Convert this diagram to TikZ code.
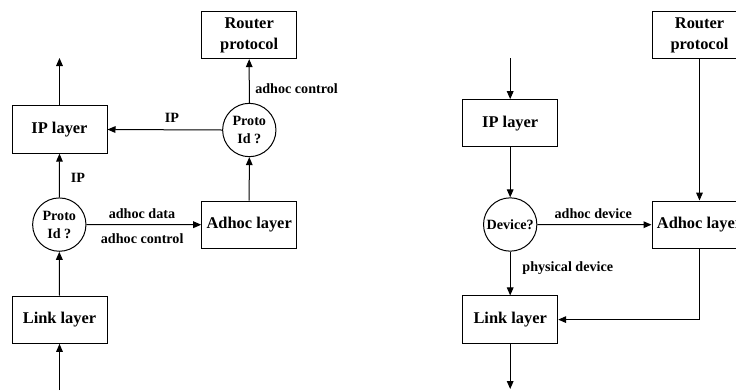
\documentclass[tikz,border=0pt]{standalone}
\usepackage{fontspec}
\setmainfont{Liberation Serif}
\usetikzlibrary{arrows.meta}

\begin{document}
\begin{tikzpicture}[x=0.75pt,y=0.75pt,yscale=-1,xscale=1,
    layer/.style={draw, line width=0.75pt, minimum width=71.25pt, minimum height=35.5pt, inner sep=0pt, align=center, font=\fontsize{12.3}{15.75}\selectfont\bfseries},
    decide/.style={draw, circle, line width=0.75pt, minimum size=40pt, inner sep=0pt, align=center, font=\fontsize{10.6}{13.5}\selectfont\bfseries},
    lbl/.style={inner sep=0pt, font=\fontsize{10.6}{13}\selectfont\bfseries},
    flow/.style={line width=0.75pt, -{Triangle[length=6pt,width=5pt]}}]
    \useasboundingbox (0,0) rectangle (736,390);

    %Shape: Rectangle (receive side)
    \node [layer] (rp1) at (249.2,35) {Router\\protocol};
    \node [layer] (ip1) at (59.5,129.5) {IP layer};
    \node [layer] (ad1) at (249.2,224.7) {Adhoc layer};
    \node [layer] (ll1) at (59.5,319.7) {Link layer};
    %Shape: Circle
    \node [decide] (pid1) at (249.3,130) {Proto\\Id ?};
    \node [decide] (pid2) at (59.3,224.6) {Proto\\Id ?};
    \coordinate (ipout) at (59.5,58);
    \coordinate (llin) at (59.5,390);

    %Straight Lines
    \draw [flow] (llin) -- (ll1.south);
    \draw [flow] (ll1.north) -- (pid2.south);
    \draw [flow] (pid2.north) -- (ip1.south);
    \draw [flow] (ip1.north) -- (ipout);
    \draw [flow] (pid2.east) -- (ad1.west);
    \draw [flow] (ad1.north) -- (pid1.south);
    \draw [flow] (pid1.west) -- (ip1.east);
    \draw [flow] (pid1.north) -- (rp1.south);

    % Text Node
    \node [lbl, anchor=west] (t1) at (255,89) {adhoc control};
    % Text Node
    \node [lbl] (t2) at (172,118) {IP};
    % Text Node
    \node [lbl] (t3) at (78,178) {IP};
    % Text Node
    \node [lbl] (t4) at (142,214) {adhoc data};
    % Text Node
    \node [lbl] (t5) at (142.2,238.5) {adhoc control};

    %Shape: Rectangle (send side)
    \node [layer] (ip2) at (510.2,123.3) {IP layer};
    \node [layer] (rp2) at (699.5,35) {Router\\protocol};
    \node [layer] (ad2) at (699.5,224.7) {Adhoc layer};
    \node [layer] (ll2) at (510.2,319.6) {Link layer};
    %Shape: Circle
    \node [decide] (dev) at (510.2,224.5) {Device?};
    \coordinate (ipin) at (510.2,58);
    \coordinate (llout) at (510.2,389);

    %Straight Lines
    \draw [flow] (ipin) -- (ip2.north);
    \draw [flow] (ip2.south) -- (dev.north);
    \draw [flow] (dev.east) -- (ad2.west);
    \draw [flow] (dev.south) -- (ll2.north);
    \draw [flow] (rp2.south) -- (ad2.north);
    \draw [flow] (ad2.south) |- (ll2.east);
    \draw [flow] (ll2.south) -- (llout);

    % Text Node
    \node [lbl] (t6) at (593.3,214) {adhoc device};
    % Text Node
    \node [lbl] (t7) at (567.8,268.5) {physical device};

\end{tikzpicture}
\end{document}
